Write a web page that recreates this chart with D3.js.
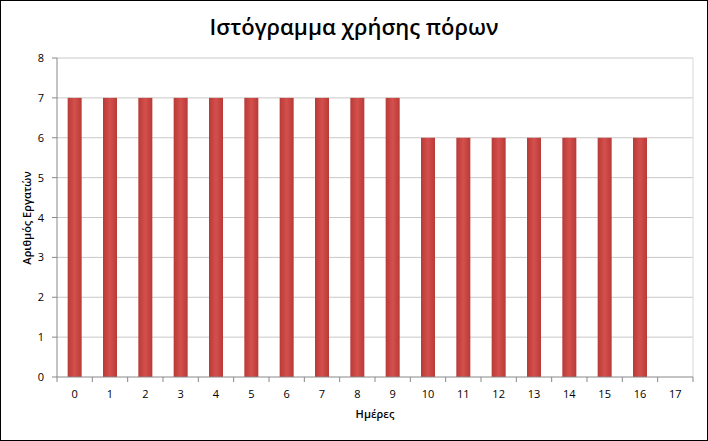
<!DOCTYPE html><html><head><meta charset="utf-8"><script src="https://cdn.jsdelivr.net/npm/d3@7"></script>
<style>body{margin:0;background:#fff}</style></head><body><svg id="c" width="708" height="441"></svg><script>
const days=["0","1","2","3","4","5","6","7","8","9","10","11","12","13","14","15","16","17"];
const workers=[7,7,7,7,7,7,7,7,7,7,6,6,6,6,6,6,6,null];
const yTicks=[0,1,2,3,4,5,6,7,8];
const svg=d3.select("#c");
svg.append("rect").attr("x",0.5).attr("y",0.5).attr("width",707).attr("height",440).attr("fill","#fff").attr("stroke","#000");
const L=57,R=693,T=58,B=377;
const xc=d3.scaleBand().domain(days).range([L,R]);
const y=d3.scaleLinear().domain([0,8]).range([B,T]);
const defs=svg.append("defs");
const g=defs.append("linearGradient").attr("id","bg");
g.append("stop").attr("offset","0").attr("stop-color","#b83a37");
g.append("stop").attr("offset","0.5").attr("stop-color","#d4504c");
g.append("stop").attr("offset","1").attr("stop-color","#b83a37");
svg.append("g").selectAll("line").data(yTicks.slice(1)).join("line")
 .attr("x1",L).attr("x2",R).attr("y1",d=>y(d)).attr("y2",d=>y(d)).attr("stroke","#c8c8c8");
svg.append("line").attr("x1",R).attr("x2",R).attr("y1",T).attr("y2",B).attr("stroke","#d8d8d8");
svg.append("g").selectAll("rect").data(days.map((d,i)=>({d,v:workers[i]})).filter(o=>o.v!=null)).join("rect")
 .attr("x",o=>xc(o.d)+xc.bandwidth()/2-7).attr("width",14).attr("y",o=>y(o.v)).attr("height",o=>B-y(o.v)).attr("fill","url(#bg)");
svg.append("line").attr("x1",L).attr("x2",L).attr("y1",T).attr("y2",B).attr("stroke","#888");
svg.append("line").attr("x1",L).attr("x2",R).attr("y1",B).attr("y2",B).attr("stroke","#888");
svg.append("g").selectAll("line").data(days).join("line").attr("x1",d=>xc(d)).attr("x2",d=>xc(d)).attr("y1",B).attr("y2",B+5).attr("stroke","#888");
svg.append("line").attr("x1",R).attr("x2",R).attr("y1",B).attr("y2",B+5).attr("stroke","#888");
svg.append("g").selectAll("line").data(yTicks).join("line").attr("x1",L-5).attr("x2",L).attr("y1",d=>y(d)).attr("y2",d=>y(d)).attr("stroke","#888");
const f="'Open Sans','Liberation Sans',Arial,sans-serif";
svg.append("g").selectAll("text").data(yTicks).join("text").attr("x",L-13).attr("y",d=>y(d)+4).attr("text-anchor","end").attr("font-family",f).attr("font-size",11).text(d=>d);
svg.append("g").selectAll("text").data(days).join("text").attr("x",d=>xc(d)+xc.bandwidth()/2).attr("y",B+21).attr("text-anchor","middle").attr("font-family",f).attr("font-size",11).text(d=>d);
svg.append("text").attr("x",354).attr("y",35).attr("text-anchor","middle").attr("font-family",f).attr("font-size",22).attr("font-weight","600").text("Ιστόγραμμα χρήσης πόρων");
svg.append("text").attr("x",375).attr("y",418).attr("text-anchor","middle").attr("font-family",f).attr("font-size",11).attr("font-weight","600").text("Ημέρες");
svg.append("text").attr("transform","translate(31,218) rotate(-90)").attr("text-anchor","middle").attr("font-family",f).attr("font-size",11).attr("font-weight","600").text("Αριθμός Εργατών");
</script></body></html>
